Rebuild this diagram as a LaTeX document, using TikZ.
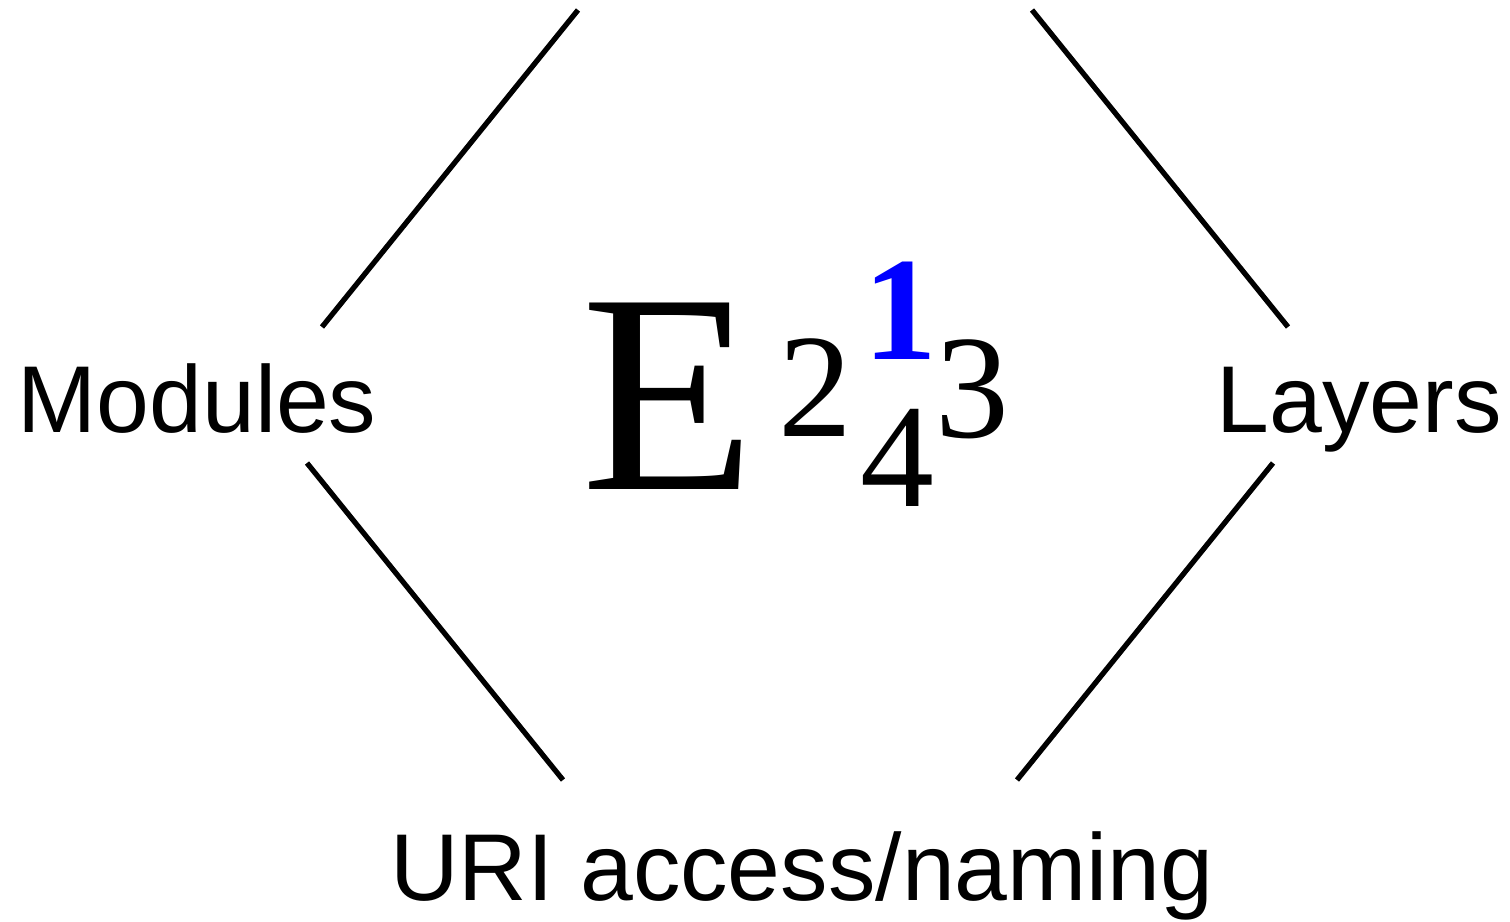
\documentclass[tikz,border=0pt]{standalone}
\usepackage{fontspec}
\setmainfont{Liberation Serif}
\newfontfamily\labelfont{Liberation Sans}
\begin{document}
\begin{tikzpicture}[x=0.01cm,y=-0.01cm,
  lbl/.style={font=\labelfont\fontsize{27}{30}\selectfont, inner sep=0pt, anchor=base},
  glyph/.style={inner sep=0pt, anchor=base},
  edge/.style={line width=1.5pt}]
\useasboundingbox (0,0) rectangle (1510,921);
% labels
\node[lbl] (mod) at (197,432) {Modules};
\node[lbl] (lay) at (1359,432) {Layers};
\node[lbl] (uri) at (802,900) {URI access/naming};
% central symbol
\node[glyph, font=\fontsize{81}{90}\selectfont] (E) at (668,489) {E};
\node[glyph, font=\fontsize{42}{48}\selectfont] (two) at (815,436) {2};
\node[glyph, font=\bfseries\fontsize{42}{48}\selectfont, text={rgb,255:red,0;green,0;blue,255}] (one) at (900,359) {1};
\node[glyph, font=\fontsize{42}{48}\selectfont] (three) at (972,437) {3};
\node[glyph, font=\fontsize{42}{48}\selectfont] (four) at (897,506) {4};
% connector end points
\coordinate (mt) at (322,327);
\coordinate (tl) at (578,10);
\coordinate (tr) at (1032,10);
\coordinate (lt) at (1288,327);
\coordinate (mb) at (307,463);
\coordinate (bl) at (563,780);
\coordinate (lb) at (1273,463);
\coordinate (br) at (1017,780);
\draw[edge] (mt) -- (tl);
\draw[edge] (tr) -- (lt);
\draw[edge] (mb) -- (bl);
\draw[edge] (lb) -- (br);
\end{tikzpicture}
\end{document}
